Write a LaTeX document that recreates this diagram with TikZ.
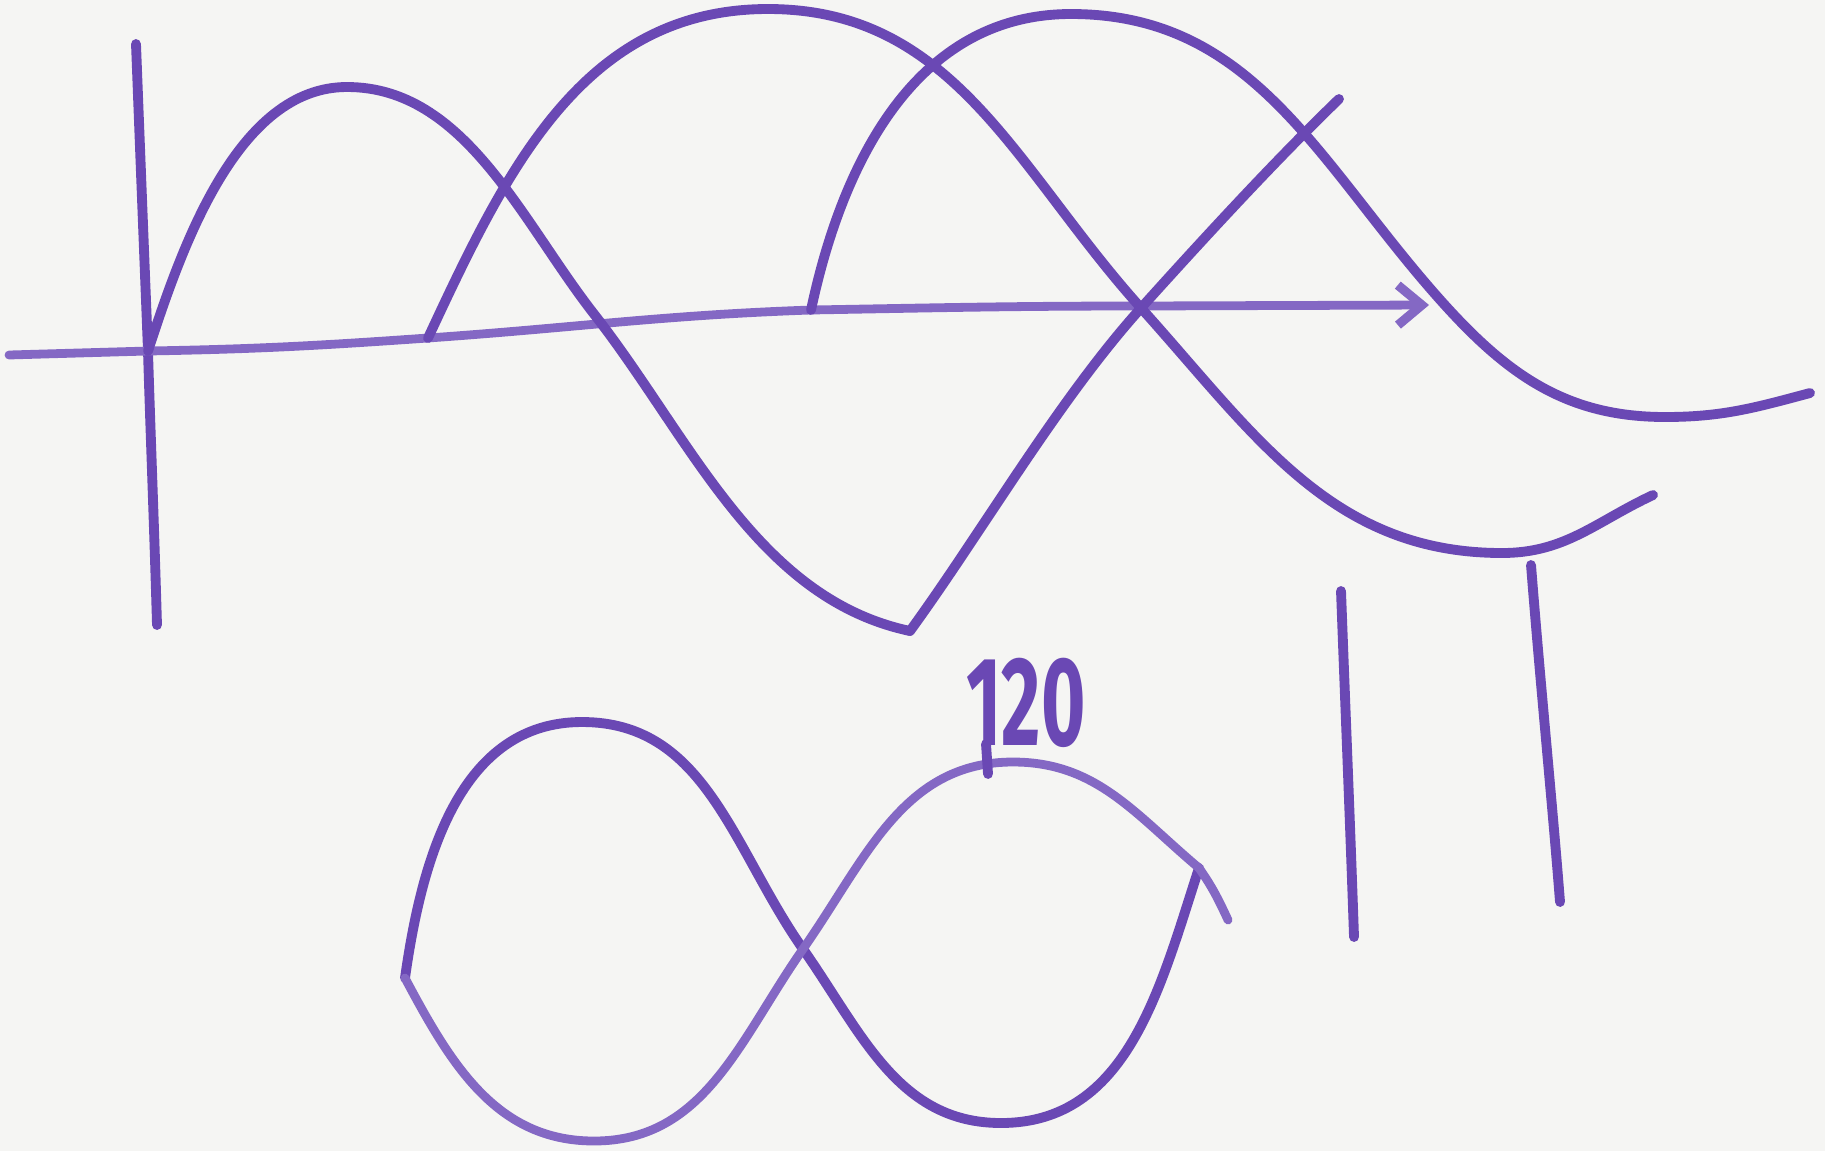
\documentclass[tikz,border=0pt]{standalone}
\usepackage{fontspec}
\setsansfont{Fira Sans}
\usetikzlibrary{arrows.meta}
\definecolor{ink}{RGB}{106,72,180}
\definecolor{inklt}{RGB}{132,104,196}
\definecolor{paper}{RGB}{245,245,243}

\begin{document}
\begin{tikzpicture}[x=0.01cm, y=-0.01cm,
  pen/.style={draw=ink, line width=2.8pt, line cap=round, line join=round},
  penlt/.style={pen, draw=inklt, line width=2.5pt},
  arr/.style={-{Straight Barb[length=2.4mm, width=4mm, line width=2.6pt]}},
  lbl/.style={font=\sffamily\bfseries\fontsize{36}{36}\selectfont, text=ink, inner sep=0pt}]
\useasboundingbox[fill=paper] (0,0) rectangle (1825,1151);

\coordinate (o) at (148,351);
\coordinate (s2) at (428,338);
\coordinate (s3) at (811,310);
\coordinate (low) at (910,631);

% axes
\draw[pen] (136,44) .. controls (142,200) and (146,300) .. (o)
  .. controls (150,420) and (154,520) .. (157,625);
\draw[penlt, arr] (9,355) -- (o) to[out=1,in=184] (s2)
  to[out=4,in=182] (s3) to[out=1,in=180] (1141,306) -- (1429,305);

% waves
\draw[pen] (o) to[out=72,in=180, looseness=0.85] (347,87) to[out=0,in=128, looseness=0.9] (594,314)
  to[out=-52,in=168, looseness=0.9] (low);
\draw[pen] (s2) to[out=65,in=180] (768,9) to[out=0,in=132] (1141,308)
  to[out=-48,in=180] (1502,553) to[out=0,in=205] (1653,495);
\draw[pen] (s3) to[out=78,in=180] (1071,14) to[out=0,in=132] (1443,303)
  to[out=-48,in=180] (1665,417) to[out=0,in=195] (1810,393);
\draw[pen] (low) to[out=54,in=-132, looseness=0.8] (1141,308)
  to[out=48,in=-136, looseness=0.8] (1339,99);

% figure eight
\coordinate (el) at (405,978);
\coordinate (er) at (1199,868);
\coordinate (x8) at (803,949);
\draw[pen] (el) to[out=82,in=180] (582,722) to[out=0,in=125] (x8)
  to[out=-55,in=180] (1001,1123) to[out=0,in=-108] (er);
\draw[penlt] (er) to[out=140,in=0] (1013,762) to[out=180,in=55] (x8)
  to[out=-125,in=0] (594,1141) to[out=180,in=-62] (el);
\draw[penlt] (er) to[out=-55,in=115] (1228,920);

\node[lbl, anchor=south west] (deg) at (966,748) {\scalebox{0.6}[1]{120}};
\draw[pen] (deg.south west) ++(20,-4) coordinate (tk) -- ++(2,30);

% bars
\draw[pen] (1341,591) .. controls (1345,700) and (1350,820) .. (1354,937);
\draw[pen] (1531,565) .. controls (1540,680) and (1552,800) .. (1560,902);
\end{tikzpicture}
\end{document}
